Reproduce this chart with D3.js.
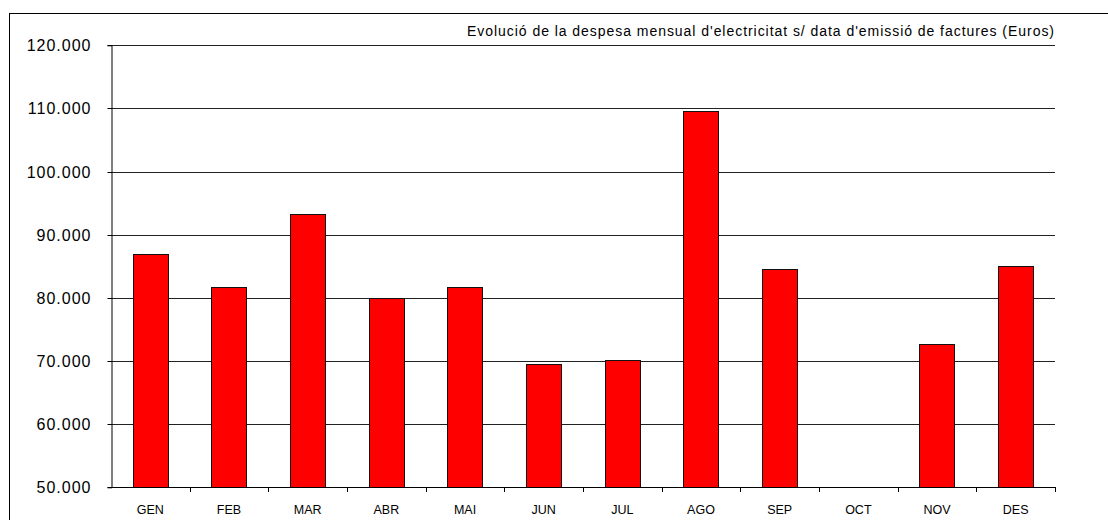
<!DOCTYPE html>
<html>
<head>
<meta charset="utf-8">
<script src="https://cdn.jsdelivr.net/npm/d3@7"></script>
<style>
  body { margin: 0; background: #fff; }
  text { font-family: "Liberation Sans", Arial, sans-serif; fill: #000; }
</style>
</head>
<body>
<script>
// monthly electricity spend by invoice date (Euros)
var months = ['GEN', 'FEB', 'MAR', 'ABR', 'MAI', 'JUN', 'JUL', 'AGO', 'SEP', 'OCT', 'NOV', 'DES'];
var spend = [86900, 81800, 93300, 80000, 81800, 69500, 70200, 109550, 84600, null, 72700, 85100];
var yTicks = [50000, 60000, 70000, 80000, 90000, 100000, 110000, 120000];
var title = "Evolució de la despesa mensual d'electricitat s/ data d'emissió de factures (Euros)";

var W = 1108, H = 520;
// plot box (note: "top" is reserved on window, so use px* names)
var pxLeft = 111, pxRight = 1055, pxTop = 45.3, pxBottom = 487.3;

var fmt = d3.formatLocale({decimal: ',', thousands: '.', grouping: [3], currency: ['', '']}).format(',d');

var svg = d3.select('body').append('svg')
    .attr('width', W)
    .attr('height', H);

// outer frame
svg.append('rect')
    .attr('x', 9.5).attr('y', 13.5)
    .attr('width', W).attr('height', H)
    .attr('fill', 'none')
    .attr('stroke', '#000')
    .attr('stroke-width', 1);

var x = d3.scaleBand()
    .domain(months)
    .range([pxLeft, pxRight])
    .paddingInner(0.555)
    .paddingOuter(0.2775);

var y = d3.scaleLinear()
    .domain([50000, 120000])
    .range([pxBottom, pxTop]);

function yPix(v) { return Math.round(y(v)) + 0.5 }

// gridlines
svg.append('g')
  .selectAll('line')
    .data(yTicks.slice(1))
    .enter()
  .append('line')
    .attr('x1', pxLeft).attr('x2', pxRight)
    .attr('y1', yPix)
    .attr('y2', yPix)
    .attr('stroke', '#222')
    .attr('stroke-width', 1);

// bars
svg.append('g')
  .selectAll('rect')
    .data(months.map(function (m, i) { return {m: m, v: spend[i]} }).filter(function (d) { return d.v != null }))
    .enter()
  .append('rect')
    .attr('x', function (d) { return Math.round(x(d.m)) + 0.5 })
    .attr('y', function (d) { return yPix(d.v) })
    .attr('width', Math.round(x.bandwidth()))
    .attr('height', function (d) { return Math.round(y(50000)) - Math.round(y(d.v)) })
    .attr('fill', '#ff0000')
    .attr('stroke', '#111')
    .attr('stroke-width', 1);

// y axis
var yAxis = d3.axisLeft(y)
    .tickValues(yTicks)
    .tickFormat(fmt)
    .tickSize(4)
    .tickPadding(16);
var gy = svg.append('g')
    .attr('transform', 'translate(' + (pxLeft + 0.5) + ',0)')
    .call(yAxis);
gy.select('.domain').attr('stroke', '#000');
gy.selectAll('.tick line').attr('stroke', '#000');
gy.selectAll('.tick text')
    .attr('font-size', 16)
    .attr('letter-spacing', 1)
    .attr('font-family', '"Liberation Sans", Arial, sans-serif')
    .attr('fill', '#000');
gy.selectAll('.tick').attr('transform', function (d) { return 'translate(0,' + yPix(d) + ')' });

// x axis: ticks at category boundaries
var bounds = months.map(function (m) { return x(m) - x.step() * x.paddingInner() / 2 }).concat([pxRight]);
var gx = svg.append('g');
gx.append('line')
    .attr('x1', pxLeft).attr('x2', pxRight)
    .attr('y1', Math.round(pxBottom) + 0.5).attr('y2', Math.round(pxBottom) + 0.5)
    .attr('stroke', '#000');
gx.selectAll('.xt')
    .data(bounds.slice(1))
    .enter()
  .append('line')
    .attr('class', 'xt')
    .attr('x1', function (d) { return Math.round(d) + 0.5 })
    .attr('x2', function (d) { return Math.round(d) + 0.5 })
    .attr('y1', Math.round(pxBottom)).attr('y2', Math.round(pxBottom) + 5)
    .attr('stroke', '#000');
gx.selectAll('text')
    .data(months)
    .enter()
  .append('text')
    .attr('x', function (d) { return x(d) + x.bandwidth() / 2 })
    .attr('y', 514)
    .attr('text-anchor', 'middle')
    .attr('font-size', 12.5)
    .text(function (d) { return d });

// title
svg.append('text')
    .attr('x', 467)
    .attr('y', 36)
    .attr('font-size', 14)
    .attr('textLength', 587)
    .attr('lengthAdjust', 'spacing')
    .text(title);
</script>
</body>
</html>
